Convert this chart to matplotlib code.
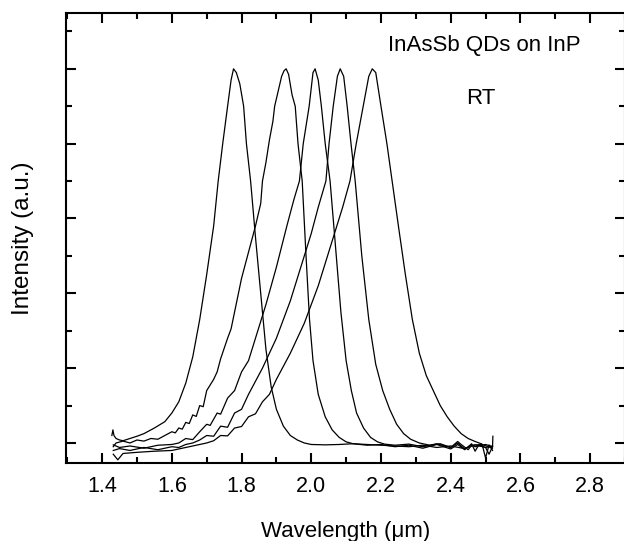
import matplotlib
matplotlib.use("Agg")
import matplotlib.pyplot as plt
from matplotlib.ticker import MultipleLocator, NullFormatter, FormatStrFormatter

plt.rcParams['font.family'] = ['Liberation Sans', 'DejaVu Sans']

# ---- data (wavelength in um, normalised PL intensity) ----
tail_x = [2.04, 2.08, 2.12, 2.16, 2.20, 2.24, 2.28, 2.32, 2.36, 2.40, 2.44, 2.47, 2.50, 2.52]

a_x = [1.428, 1.431, 1.434, 1.44, 1.45, 1.46, 1.48, 1.50, 1.52, 1.55, 1.58, 1.60, 1.62, 1.64, 1.66,
       1.68, 1.70, 1.72, 1.733, 1.746, 1.76, 1.77, 1.777, 1.785, 1.795, 1.806, 1.814, 1.826, 1.84,
       1.855, 1.87, 1.885, 1.90, 1.92, 1.94, 1.96, 1.98, 2.00] + tail_x
a_y = [0.02, 0.035, 0.02, 0.012, 0.008, 0.006, 0.012, 0.018, 0.025, 0.04, 0.057, 0.08, 0.11, 0.16, 0.23,
       0.33, 0.45, 0.58, 0.70, 0.80, 0.90, 0.97, 1.0, 0.99, 0.96, 0.90, 0.80, 0.70, 0.55,
       0.40, 0.25, 0.15, 0.09, 0.045, 0.02, 0.008, 0.0, -0.004,
       -0.005, -0.004, -0.002, -0.004, -0.006, -0.008, -0.010, -0.006, -0.012, -0.008, -0.015, -0.005, -0.012, -0.008]

b_x = [1.432, 1.44, 1.46, 1.48, 1.50, 1.52, 1.54, 1.56, 1.58, 1.60, 1.61, 1.62, 1.63, 1.64, 1.65,
       1.66, 1.67, 1.68, 1.69, 1.70, 1.72, 1.73, 1.74, 1.76, 1.77, 1.78, 1.80, 1.82, 1.84, 1.855,
       1.86, 1.87, 1.88, 1.89, 1.895, 1.905, 1.915, 1.922, 1.928, 1.935, 1.945, 1.954, 1.962, 1.974,
       1.985, 1.995, 2.005, 2.02, 2.04, 2.06, 2.08, 2.10, 2.12, 2.16, 2.20, 2.24, 2.28, 2.32, 2.36,
       2.40, 2.42, 2.44, 2.46, 2.47, 2.48, 2.50, 2.51, 2.52, 2.521]
b_y = [-0.01, 0.0, 0.005, 0.0, 0.008, 0.005, 0.012, 0.01, 0.02, 0.03, 0.027, 0.04, 0.037, 0.055, 0.052,
       0.075, 0.071, 0.10, 0.097, 0.14, 0.17, 0.19, 0.225, 0.28, 0.305, 0.35, 0.44, 0.51, 0.58, 0.64,
       0.70, 0.75, 0.81, 0.86, 0.90, 0.94, 0.98, 0.995, 1.0, 0.985, 0.93, 0.90, 0.80, 0.70,
       0.50, 0.33, 0.22, 0.13, 0.07, 0.035, 0.015, 0.003, -0.002, -0.006, -0.004, -0.010, -0.006, -0.014, -0.004,
       -0.016, -0.004, -0.018, -0.002, -0.022, -0.006, -0.012, -0.03, -0.01, 0.018]

c_x = [1.432, 1.45, 1.48, 1.52, 1.56, 1.60, 1.62, 1.64, 1.66, 1.68, 1.70, 1.71, 1.73, 1.74, 1.76,
       1.78, 1.80, 1.82, 1.84, 1.87, 1.90, 1.93, 1.95, 1.966, 1.977, 1.994, 2.005, 2.011, 2.02, 2.029,
       2.04, 2.054, 2.07, 2.085, 2.10, 2.115, 2.13, 2.15, 2.17, 2.19, 2.21, 2.24, 2.28, 2.32, 2.36,
       2.40, 2.42, 2.44, 2.46, 2.47, 2.50, 2.52]
c_y = [-0.005, -0.012, -0.008, -0.014, -0.006, -0.004, 0.0, 0.012, 0.009, 0.03, 0.05, 0.047, 0.08, 0.077, 0.12,
       0.14, 0.19, 0.22, 0.28, 0.37, 0.47, 0.58, 0.65, 0.70, 0.80, 0.90, 0.99, 1.0, 0.97, 0.90,
       0.80, 0.70, 0.52, 0.35, 0.22, 0.14, 0.08, 0.04, 0.015, 0.003, -0.003, -0.006, -0.003, -0.010, -0.002,
       -0.012, 0.0, -0.016, -0.006, -0.01, -0.004, -0.010]

d_x = [1.432, 1.45, 1.48, 1.52, 1.56, 1.60, 1.62, 1.64, 1.66, 1.68, 1.70, 1.72, 1.74, 1.76, 1.78,
       1.80, 1.82, 1.86, 1.90, 1.94, 1.97, 2.00, 2.02, 2.042, 2.051, 2.063, 2.075, 2.083, 2.093, 2.103,
       2.114, 2.126, 2.145, 2.165, 2.185, 2.205, 2.225, 2.245, 2.265, 2.285, 2.31, 2.34, 2.37, 2.40,
       2.42, 2.43, 2.45, 2.46, 2.49, 2.52]
d_y = [-0.02, -0.015, -0.02, -0.012, -0.018, -0.01, -0.012, -0.004, 0.0, 0.008, 0.02, 0.018, 0.045, 0.042, 0.08,
       0.09, 0.13, 0.20, 0.28, 0.38, 0.47, 0.56, 0.63, 0.70, 0.80, 0.90, 0.98, 1.0, 0.98, 0.90,
       0.80, 0.70, 0.50, 0.33, 0.21, 0.14, 0.09, 0.05, 0.025, 0.01, 0.0, -0.006, -0.002, -0.012,
       0.004, -0.004, -0.018, -0.006, -0.004, -0.014]

e_x = [1.432, 1.445, 1.46, 1.50, 1.55, 1.60, 1.65, 1.70, 1.72, 1.74, 1.76, 1.78, 1.80, 1.82, 1.84,
       1.86, 1.88, 1.90, 1.94, 1.98, 2.02, 2.06, 2.09, 2.111, 2.129, 2.149, 2.165, 2.175, 2.185, 2.20,
       2.217, 2.232, 2.25, 2.27, 2.29, 2.31, 2.33, 2.35, 2.37, 2.39, 2.41, 2.43, 2.45, 2.47, 2.49,
       2.50, 2.51, 2.52]
e_y = [-0.03, -0.045, -0.028, -0.025, -0.022, -0.02, -0.01, 0.0, 0.006, 0.02, 0.019, 0.04, 0.044, 0.07, 0.078,
       0.11, 0.13, 0.17, 0.24, 0.32, 0.42, 0.54, 0.63, 0.70, 0.80, 0.90, 0.98, 1.0, 0.99, 0.90,
       0.80, 0.70, 0.58, 0.45, 0.33, 0.24, 0.18, 0.14, 0.10, 0.07, 0.045, 0.025, 0.012, 0.004, -0.003,
       -0.04, -0.005, -0.02]

spectra = [(a_x, a_y), (b_x, b_y), (c_x, c_y), (d_x, d_y), (e_x, e_y)]

x_ticks = [1.4, 1.6, 1.8, 2.0, 2.2, 2.4, 2.6, 2.8]
title_text = "InAsSb QDs on InP"
temp_text = "RT"

fig = plt.figure(figsize=(6.24, 5.41), dpi=100)
ax = fig.add_axes([65.5 / 624, 78 / 541, 559.5 / 624, 450.3 / 541])

for xs, ys in spectra:
    ax.plot(xs, ys, color='black', lw=0.9)

ax.set_xlim(1.295, 2.9)
ax.set_ylim(-0.0535, 1.15)

ax.set_xticks(x_ticks)
ax.xaxis.set_major_formatter(FormatStrFormatter('%.1f'))
ax.xaxis.set_minor_locator(MultipleLocator(0.1))
ax.yaxis.set_major_locator(MultipleLocator(0.2))
ax.yaxis.set_minor_locator(MultipleLocator(0.1))
ax.yaxis.set_major_formatter(NullFormatter())

ax.tick_params(which='both', direction='in', top=True, right=True, width=1.5)
ax.tick_params(which='major', length=7.5)
ax.tick_params(which='minor', length=4)
ax.tick_params(axis='x', labelsize=15.5, pad=9.5)
for s in ax.spines.values():
    s.set_linewidth(1.5)

ax.set_xlabel("Wavelength (μm)", fontsize=16, labelpad=17)
ax.set_ylabel("Intensity (a.u.)", fontsize=17.5, labelpad=19)

ax.text(2.22, 1.062, title_text, fontsize=16, va='center', ha='left')
ax.text(2.444, 0.92, temp_text, fontsize=16, va='center', ha='left')

fig.savefig("out.png", dpi=100)
